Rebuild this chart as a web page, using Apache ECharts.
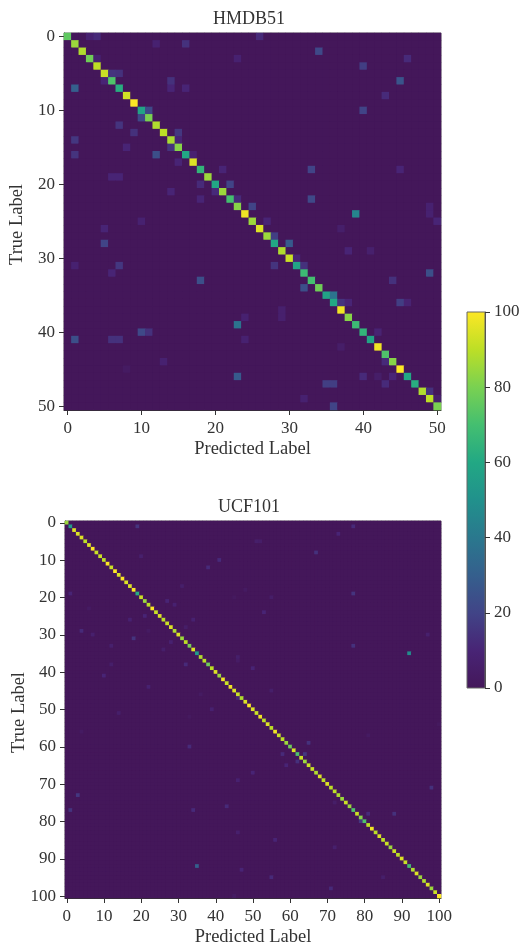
<!DOCTYPE html>
<html>
<head>
<meta charset="utf-8">
<style>html,body{margin:0;padding:0;background:#fff}#c{width:521px;height:946px}</style>
<script src="https://cdn.jsdelivr.net/npm/echarts@6/dist/echarts.min.js"></script>
</head>
<body>
<div id="c"></div>
<script>
// Diagonal of each confusion matrix (percent), read row by row
const hmdbDiagonal = [75,85,88,78,90,92,72,62,93,100,58,80,88,90,87,82,60,95,65,85,60,85,70,82,98,85,95,85,60,88,92,58,68,70,78,58,60,98,82,68,65,58,98,72,82,100,60,62,88,90,80];
const ucfDiagonal = [85,55,95,95,95,90,95,100,92,92,90,100,92,100,95,100,95,95,100,62,92,85,90,100,92,95,90,92,95,88,95,85,90,80,95,55,88,90,78,90,95,85,98,92,98,95,92,88,95,100,95,92,98,90,95,90,98,92,90,85,78,95,72,92,85,92,92,88,95,90,95,90,90,88,85,92,85,72,92,82,72,90,98,90,95,90,92,85,92,90,95,92,70,88,95,85,88,95,85,92,100];
// Off-diagonal confusions: [row, column, percent]
const hmdbOffDiagonal = [[0,3,8],[0,4,12],[0,26,12],[1,12,8],[1,16,14],[2,34,22],[3,4,8],[3,23,8],[3,46,12],[4,40,18],[5,6,15],[5,7,14],[6,5,10],[6,14,14],[6,45,26],[7,1,30],[7,14,10],[7,16,10],[8,43,12],[10,11,22],[10,40,20],[11,10,22],[12,7,15],[13,9,14],[13,15,16],[14,1,16],[14,15,10],[15,8,10],[15,14,15],[16,1,15],[16,12,24],[16,17,8],[17,15,10],[18,21,10],[18,33,20],[18,45,10],[19,6,10],[19,7,10],[20,18,12],[20,22,20],[21,14,10],[21,20,12],[22,18,10],[22,23,12],[22,33,22],[23,25,20],[23,49,8],[24,39,45],[24,49,8],[25,10,8],[25,27,10],[25,50,10],[26,5,10],[26,37,6],[27,28,18],[28,5,20],[28,30,28],[29,38,10],[29,41,7],[30,31,10],[31,1,8],[31,7,16],[31,28,15],[31,32,14],[32,6,10],[32,49,24],[33,18,24],[33,44,14],[34,32,24],[35,36,38],[36,37,15],[36,38,10],[36,45,18],[36,46,9],[37,29,7],[38,24,8],[38,29,7],[39,23,38],[40,10,22],[40,11,14],[40,42,9],[41,1,24],[41,6,14],[41,7,14],[41,24,8],[42,37,5],[44,13,8],[44,43,12],[45,8,3],[46,23,28],[46,40,12],[46,42,5],[46,44,10],[47,35,18],[47,36,18],[47,43,12],[48,49,14],[49,32,8],[49,50,6],[50,36,20]];
const ucfOffDiagonal = [[1,19,15],[1,77,12],[3,73,10],[5,51,6],[5,52,5],[8,67,14],[9,20,7],[10,41,12],[12,38,12],[17,31,6],[18,48,3],[19,1,10],[19,77,15],[20,45,2],[20,55,5],[21,27,10],[22,29,8],[23,6,3],[24,53,10],[25,21,10],[26,17,8],[26,34,8],[28,32,5],[29,4,12],[29,22,3],[30,7,7],[30,97,7],[31,18,15],[32,28,8],[33,12,7],[33,77,14],[34,26,6],[35,92,48],[36,46,6],[37,46,4],[38,12,6],[38,32,12],[39,50,10],[41,10,10],[44,22,8],[45,55,6],[46,36,3],[47,46,10],[50,39,8],[51,14,6],[52,33,2],[54,100,2],[56,4,3],[57,81,3],[59,65,14],[60,33,12],[62,58,12],[62,64,16],[64,62,14],[65,59,10],[67,50,10],[69,46,8],[71,98,14],[73,3,16],[75,72,5],[76,43,12],[77,1,15],[77,34,12],[78,81,12],[78,88,14],[80,79,16],[83,46,7],[85,56,10],[87,72,7],[92,35,30],[93,47,10],[95,55,12],[95,85,6],[98,71,12],[100,45,3]];
const colorStops = ['#44175a','#482475','#414487','#355f8d','#2a788e','#21918c','#22a884','#44bf70','#7ad151','#bddf26','#fde725'];
const colorbarTicks = [0,20,40,60,80,100];

function matrix(diag, off){
  const out = [];
  const n = diag.length;
  const m = Array.from({length:n},()=>new Array(n).fill(0));
  diag.forEach((v,i)=>{m[i][i]=v;});
  off.forEach(t=>{m[t[0]][t[1]]=t[2];});
  for(let r=0;r<n;r++)for(let c=0;c<n;c++)out.push([c,r,m[r][c]]);
  return out;
}
const FONT='"Liberation Serif","Times New Roman",serif';
const TXT='#333';
const everyTen=i=>i%10===0;
function cats(n){return Array.from({length:n},(_,i)=>String(i));}
function xA(g,n){return {type:'category',gridIndex:g,data:cats(n),position:'bottom',name:'Predicted Label',nameLocation:'middle',nameGap:30,nameMoveOverlap:false,
  nameTextStyle:{fontFamily:FONT,fontSize:18.5,color:TXT},
  axisLine:{show:true,onZero:false,lineStyle:{color:'#333',width:1}},
  axisTick:{show:true,alignWithLabel:true,interval:everyTen,length:5,lineStyle:{color:'#333'}},
  axisLabel:{interval:everyTen,fontFamily:FONT,fontSize:17,color:TXT,margin:10,hideOverlap:false,showMinLabel:true,showMaxLabel:true},
  splitLine:{show:false},splitArea:{show:false}};}
function yA(g,n){return {type:'category',gridIndex:g,data:cats(n),inverse:true,position:'left',name:'True Label',nameLocation:'middle',nameGap:g===0?37:36,nameMoveOverlap:false,
  nameTextStyle:{fontFamily:FONT,fontSize:18.5,color:TXT,padding:[0,6,0,0]},
  axisLine:{show:true,onZero:false,lineStyle:{color:'#333',width:1}},
  axisTick:{show:true,alignWithLabel:true,interval:everyTen,length:5,lineStyle:{color:'#333'}},
  axisLabel:{interval:everyTen,fontFamily:FONT,fontSize:17,color:TXT,margin:9,hideOverlap:false,showMinLabel:true,showMaxLabel:true},
  splitLine:{show:false},splitArea:{show:false}};}

const barGradient=new echarts.graphic.LinearGradient(0,1,0,0,colorStops.map((c,i)=>({offset:i/(colorStops.length-1),color:c})));
const chart=echarts.init(document.getElementById('c'),null,{renderer:'canvas'});
chart.setOption({
  animation:false,
  backgroundColor:'#fff',
  title:[
    {text:'HMDB51',left:244,top:5,textAlign:'center',textStyle:{fontFamily:FONT,fontSize:18,fontWeight:'normal',color:TXT}},
    {text:'UCF101',left:244,top:493,textAlign:'center',textStyle:{fontFamily:FONT,fontSize:18,fontWeight:'normal',color:TXT}}
  ],
  grid:[
    {left:64,top:33,width:377,height:377,show:true,borderColor:'#777',borderWidth:1,backgroundColor:colorStops[0],outerBoundsMode:'none'},
    {left:65,top:521,width:376,height:377,show:true,borderColor:'#777',borderWidth:1,backgroundColor:colorStops[0],outerBoundsMode:'none'},
    {left:467,top:312,width:18,height:376,show:true,borderColor:'#666',borderWidth:1,backgroundColor:barGradient,outerBoundsMode:'none'}
  ],
  xAxis:[xA(0,51),xA(1,101),{type:'value',gridIndex:2,show:false,min:0,max:1}],
  yAxis:[yA(0,51),yA(1,101),{type:'value',gridIndex:2,position:'right',min:colorbarTicks[0],max:colorbarTicks[colorbarTicks.length-1],interval:20,
    axisLine:{show:true,onZero:false,lineStyle:{color:'#555'}},axisTick:{show:true,length:5,lineStyle:{color:'#333'}},
    axisLabel:{fontFamily:FONT,fontSize:17,color:TXT,margin:9},splitLine:{show:false}}],
  visualMap:{type:'continuous',show:false,seriesIndex:[0,1],min:0,max:100,inRange:{color:colorStops}},
  series:[
    {type:'heatmap',xAxisIndex:0,yAxisIndex:0,data:matrix(hmdbDiagonal,hmdbOffDiagonal),progressive:0,silent:true},
    {type:'heatmap',xAxisIndex:1,yAxisIndex:1,data:matrix(ucfDiagonal,ucfOffDiagonal),progressive:0,silent:true}
  ]
});
</script>
</body>
</html>
